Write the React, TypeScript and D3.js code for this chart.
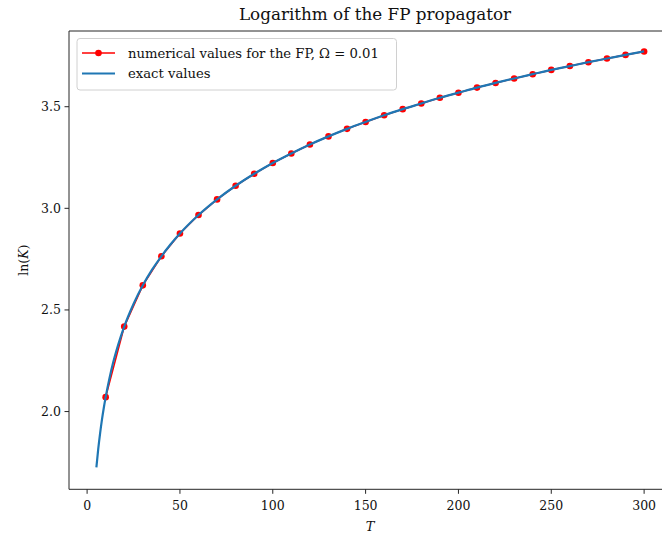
import React from 'react';
import * as d3 from 'd3';

// exact curve
const exactT = [5, 6, 7, 8, 9, 10, 12, 14, 16, 18, 20, 25, 30, 35, 40, 45, 50, 60, 70, 80, 90, 100, 110, 120, 130, 140, 150, 160, 170, 180, 190, 200, 210, 220, 230, 240, 250, 260, 270, 280, 290, 300];
const exactLnK = [1.725, 1.816, 1.893, 1.960, 2.019, 2.071, 2.162, 2.240, 2.306, 2.365, 2.418, 2.529, 2.621, 2.698, 2.764, 2.823, 2.876, 2.967, 3.044, 3.111, 3.170, 3.223, 3.270, 3.314, 3.354, 3.391, 3.425, 3.458, 3.488, 3.516, 3.544, 3.569, 3.594, 3.617, 3.639, 3.660, 3.681, 3.700, 3.719, 3.737, 3.755, 3.772];

// numerical FP values (red markers)
const numT = [10, 20, 30, 40, 50, 60, 70, 80, 90, 100, 110, 120, 130, 140, 150, 160, 170, 180, 190, 200, 210, 220, 230, 240, 250, 260, 270, 280, 290, 300];
const numLnK = [2.071, 2.418, 2.621, 2.764, 2.876, 2.967, 3.044, 3.111, 3.170, 3.223, 3.270, 3.314, 3.354, 3.391, 3.425, 3.458, 3.488, 3.516, 3.544, 3.569, 3.594, 3.617, 3.639, 3.660, 3.681, 3.700, 3.719, 3.737, 3.755, 3.772];

const xTicks = [0, 50, 100, 150, 200, 250, 300];
const yTicks = [2.0, 2.5, 3.0, 3.5];

const title = 'Logarithm of the FP propagator';
const legendLabels = ['numerical values for the FP, Ω = 0.01', 'exact values'];

const W = 662;
const H = 540;
const FONT = '"DejaVu Serif", "Liberation Serif", serif';

export default function App() {
  const left = 69, right = 671.5, top = 31, bottom = 489.3;

  const x = d3.scaleLinear().domain([-9.75, 314.75]).range([left, right]);
  const y = d3.scaleLinear().domain([1.6175, 3.8725]).range([bottom, top]);

  const exactLine = d3.line<number>()
    .x((d, i) => x(exactT[i]))
    .y(d => y(d))
    .curve(d3.curveMonotoneX)(exactLnK);

  const numLine = d3.line<number>()
    .x((d, i) => x(numT[i]))
    .y(d => y(d))(numLnK);

  const axisColor = '#262626';

  return (
    <svg width={W} height={H} style={{ position: 'absolute', left: 0, top: 0, background: 'white' }} fontFamily={FONT}>
      <text x={375} y={20} textAnchor="middle" fontSize={16.8} fill="#111">{title}</text>

      <defs>
        <clipPath id="plot">
          <rect x={left} y={top} width={right - left} height={bottom - top} />
        </clipPath>
      </defs>

      <g clipPath="url(#plot)">
        <path d={numLine || ''} fill="none" stroke="#ff0000" strokeWidth={1.6} />
        {numLnK.map((d, i) => (
          <circle key={i} cx={x(numT[i])} cy={y(d)} r={3.3} fill="#ff0000" />
        ))}
        <path d={exactLine || ''} fill="none" stroke="#1f77b4" strokeWidth={2.2} />
      </g>

      {/* spines */}
      <line x1={left} x2={left} y1={top} y2={bottom} stroke={axisColor} strokeWidth={1} />
      <line x1={left} x2={right} y1={bottom} y2={bottom} stroke={axisColor} strokeWidth={1} />
      <line x1={left} x2={right} y1={top} y2={top} stroke={axisColor} strokeWidth={1} />
      <line x1={right} x2={right} y1={top} y2={bottom} stroke={axisColor} strokeWidth={1} />

      {xTicks.map(t => (
        <g key={t} transform={`translate(${x(t)},${bottom})`}>
          <line y2={4.5} stroke={axisColor} strokeWidth={1} />
          <text y={21} textAnchor="middle" fontSize={12.5} fill="#111">{t}</text>
        </g>
      ))}
      {yTicks.map(t => (
        <g key={t} transform={`translate(${left},${y(t)})`}>
          <line x2={-4.5} stroke={axisColor} strokeWidth={1} />
          <text x={-8} dy="0.36em" textAnchor="end" fontSize={12.5} fill="#111">{t.toFixed(1)}</text>
        </g>
      ))}

      <text x={370} y={531} textAnchor="middle" fontSize={13} fontStyle="italic" fill="#111">T</text>
      <text transform={`translate(28,${(top + bottom) / 2}) rotate(-90)`} textAnchor="middle" fontSize={12.5} fill="#111">
        ln(<tspan fontStyle="italic">K</tspan>)
      </text>

      {/* legend */}
      <g>
        <rect x={77} y={38.5} width={319.5} height={51.5} rx={3} fill="white" fillOpacity={0.8} stroke="#d0d0d0" strokeWidth={1} />
        <line x1={82} x2={115} y1={53} y2={53} stroke="#ff0000" strokeWidth={1.6} />
        <circle cx={98.5} cy={53} r={3.3} fill="#ff0000" />
        <text x={128} y={57.5} fontSize={13.2} fill="#111">{legendLabels[0]}</text>
        <line x1={82} x2={115} y1={73.5} y2={73.5} stroke="#1f77b4" strokeWidth={2.2} />
        <text x={128} y={78} fontSize={13.2} fill="#111">{legendLabels[1]}</text>
      </g>
    </svg>
  );
}
